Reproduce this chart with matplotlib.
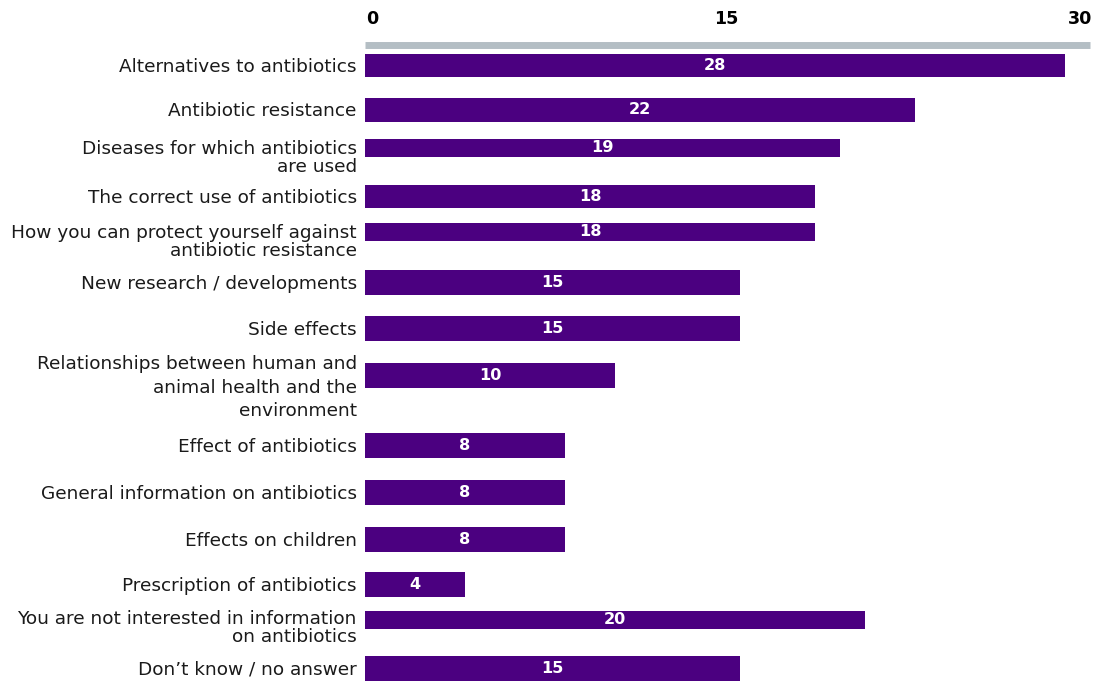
import matplotlib
matplotlib.use("Agg")
import matplotlib.pyplot as plt

plt.rcParams['font.family'] = ['DejaVu Sans']

# data
categories = [
    "Alternatives to antibiotics",
    "Antibiotic resistance",
    "Diseases for which antibiotics\nare used",
    "The correct use of antibiotics",
    "How you can protect yourself against\nantibiotic resistance",
    "New research / developments",
    "Side effects",
    "Relationships between human and\nanimal health and the\nenvironment",
    "Effect of antibiotics",
    "General information on antibiotics",
    "Effects on children",
    "Prescription of antibiotics",
    "You are not interested in information\non antibiotics",
    "Don\u2019t know / no answer",
]
values = [28, 22, 19, 18, 18, 15, 15, 10, 8, 8, 8, 4, 20, 15]
axis_ticks = [0, 15, 30]

# layout (pixel rows from the top of the picture, the original is hand placed)
row_centre = [66, 110, 148, 197, 232, 283, 329, 376, 446, 493, 540, 585, 620, 669]
bar_height = [23, 24, 18, 23, 18, 25, 25, 25, 25, 25, 25, 25, 18, 25]
line_gap = [1.0, 1.0, 1.0, 1.0, 1.0, 1.0, 1.0, 1.4, 1.0, 1.0, 1.0, 1.0, 0.98, 1.0]
label_shift = [0, 0, 0, 0, 0, 0, 0, -13, 0, 0, 0, 0, -2, 0]

purple = '#4b0080'
grey = '#b4bec4'

W, H = 1098, 682
fig = plt.figure(figsize=(W / 100, H / 100), dpi=100)
ax = fig.add_axes([365 / W, 0, 725 / W, (H - 45) / H])
ax.set_xlim(0, 725 / 25)
ax.set_ylim(H, 45)

ax.barh(row_centre, values, height=bar_height, color=purple, align='center')

for v, y in zip(values, row_centre):
    ax.text(v / 2, y, str(v), color='white', fontsize=11.6, fontweight='bold',
            ha='center', va='center')

for lab, y, ls, dy in zip(categories, row_centre, line_gap, label_shift):
    ax.text(-0.33, y - 8 + dy, lab, ha='right', va='top', fontsize=13.3,
            color='#1a1a1a', linespacing=ls)

for s in ['left', 'right', 'bottom']:
    ax.spines[s].set_visible(False)
ax.spines['top'].set_color(grey)
ax.spines['top'].set_linewidth(5.0)
ax.spines['top'].set_capstyle('butt')
ax.set_xticks([])
ax.set_yticks([])

ax2 = ax.twiny()
ax2.set_xlim(-0.3, 30.4)
ax2.set_xticks(axis_ticks)
ax2.set_xticklabels([str(t) for t in axis_ticks], fontsize=12.6, fontweight='bold')
ax2.tick_params(axis='x', length=0, pad=12)
for s in ax2.spines.values():
    s.set_visible(False)

fig.savefig('out.png', dpi=100)
